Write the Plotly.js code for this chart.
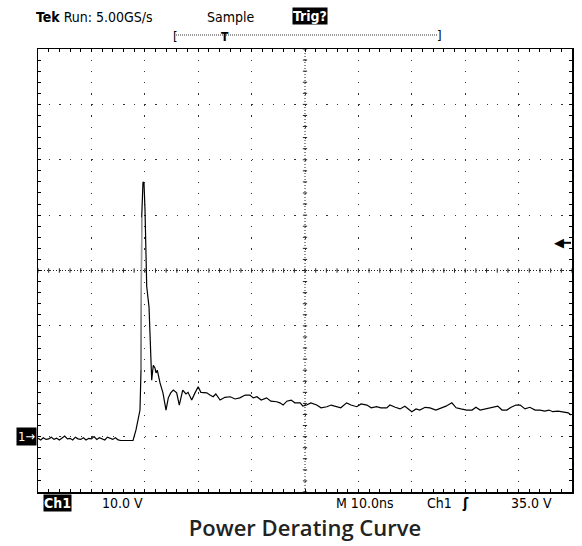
<!DOCTYPE html>
<html>
<head>
<meta charset="utf-8">
<script src="https://cdn.plot.ly/plotly-3.0.1.min.js"></script>
<style>html,body{margin:0;padding:0;background:#fff;}#chart{width:582px;height:546px;}</style>
</head>
<body>
<div id="chart"></div>
<script>
// ---- data: Ch1 waveform (time in ns, voltage in V) ----
const timeNs = [0,0.5,1,1.5,2,2.5,3,3.5,4,4.5,5,5.5,6,6.5,7,7.5,8,8.5,9,9.5,10,10.5,11,11.5,12,12.5,13,13.5,14,14.5,15,15.5,16,16.5,17,17.8,
  18.35,18.73,19.1,19.29,19.42,19.66,19.85,20.04,20.17,20.36,20.79,21.1,21.29,21.59,21.9,22.1,22.34,22.85,23.4,23.97,24.4,24.85,25.34,25.97,26.46,27.1,27.7,28.1,28.78,29.4,30.0,30.5,30.96,31.6,32.2,32.8,33.3,34.1,35.0,36.0,36.9,37.8,38.8,39.7,40.3,41.0,41.8,42.8,43.6,44.7,45.3,45.9,46.6,47.4,48.1,49.1,49.6,50.3,51.1,52.2,53.0,54.1,54.9,55.9,56.7,57.8,58.6,59.7,60.5,61.6,62.4,63.4,64.2,65.3,65.9,66.9,67.8,68.7,70.0,70.8,71.5,72.5,73.4,74.5,75.6,76.4,77.5,78.3,79.2,80.3,81.3,82.0,82.8,83.9,85.2,86.1,86.9,87.8,88.6,89.5,90.3,91.2,92.1,93.1,94.0,94.9,95.7,96.4,97.4,98.3,99.3,99.8];
const volts = [-0.3,-0.6,-0.2,-0.5,-0.4,-0.1,-0.5,-0.3,-0.6,-0.2,0.1,-0.4,-0.3,-0.6,-0.1,-0.4,-0.5,-0.2,-0.6,-0.3,-0.4,0.0,-0.5,-0.2,-0.4,-0.6,-0.1,-0.3,-0.5,-0.2,-0.6,-0.7,-0.7,-0.7,-0.7,-0.7,
  1.2,3.0,4.8,12.0,39.6,46.0,45.8,40.9,32.5,27.1,23.4,16.2,10.2,12.9,12.4,11.5,12.0,9.7,7.9,4.8,7.0,7.9,8.4,7.9,5.7,8.4,7.7,8.0,6.6,7.9,9.0,8.0,7.9,7.9,7.5,7.2,7.7,6.6,7.1,7.2,6.8,7.0,7.5,7.5,7.0,7.2,6.6,7.0,6.4,6.3,6.1,5.7,6.4,6.6,6.1,6.1,5.5,5.7,6.1,5.7,5.2,5.4,5.7,5.4,5.2,6.1,5.7,5.4,5.9,5.7,5.2,5.4,5.2,5.2,5.7,5.3,5.0,5.5,4.5,5.0,4.8,5.3,5.2,4.8,5.2,5.5,6.1,5.2,5.0,4.8,4.8,5.3,4.8,5.0,5.2,5.5,4.8,4.8,5.3,5.7,5.7,5.0,5.3,4.8,4.8,4.6,4.8,4.5,4.6,4.4,4.3,3.9];
// fast rising edge drawn fainter on the scope
const edgeT = [19.29, 19.42];
const edgeV = [12.0, 39.6];
const trigLevelV = 35.0;

const W = 582, H = 546, L = 38, R = 572, T = 49, B = 492;
const px = x => (x - L) / (R - L);
const py = y => (B - y) / (B - T);
const scopeFont = 'DejaVu Sans Condensed, Liberation Sans Narrow, DejaVu Sans, sans-serif';

const traces = [
  {x: timeNs, y: volts, type: 'scatter', mode: 'lines', line: {color: '#000', width: 1.2}, hoverinfo: 'skip', showlegend: false},
  {x: edgeT, y: edgeV, type: 'scatter', mode: 'lines', line: {color: '#9a9a9a', width: 1.2}, hoverinfo: 'skip', showlegend: false}
];

const shapes = [
  // centre crosshair
  {type: 'line', xref: 'x', yref: 'y', x0: 50, x1: 50, y0: -10, y1: 70, line: {color: '#222', width: 1, dash: '1px,2px'}, layer: 'below'},
  {type: 'line', xref: 'x', yref: 'y', x0: 0, x1: 100, y0: 30, y1: 30, line: {color: '#222', width: 1, dash: '1px,2px'}, layer: 'below'},
  // record bracket dotted line
  {type: 'line', xref: 'paper', yref: 'paper', x0: px(176), x1: px(437), y0: py(35), y1: py(35), line: {color: '#333', width: 1, dash: '1px,1px'}},
  // trigger arrow stem
  {type: 'line', xref: 'paper', yref: 'y', x0: px(563), x1: px(571), y0: trigLevelV, y1: trigLevelV, line: {color: '#000', width: 2}}
];
for (let t = 0; t <= 100; t += 2) {
  shapes.push({type: 'line', xref: 'x', yref: 'y', x0: t, x1: t, y0: 29.6, y1: 30.4, line: {color: '#222', width: 1}, layer: 'below'});
}
for (let v = -10; v <= 70; v += 2) {
  shapes.push({type: 'line', xref: 'x', yref: 'y', x0: 49.6, x1: 50.4, y0: v, y1: v, line: {color: '#222', width: 1}, layer: 'below'});
}

const txt = (text, x, y, opts) => Object.assign({
  text: text, xref: 'paper', yref: 'paper', x: px(x), y: py(y), xanchor: 'left', yanchor: 'middle',
  showarrow: false, font: {family: scopeFont, size: 14, color: '#000'}
}, opts || {});

const annotations = [
  txt('<b>Tek</b> Run: 5.00GS/s', 34, 17),
  txt('Sample', 205, 17),
  txt('<b>Trig?</b>', 292, 16, {bgcolor: '#000', font: {family: scopeFont, size: 14, color: '#fff'}, borderpad: 0}),
  txt('[', 171, 36, {font: {family: scopeFont, size: 13, color: '#000'}}),
  txt(']', 435, 35, {font: {family: scopeFont, size: 13, color: '#000'}}),
  txt('<b>T</b>', 225, 37, {xanchor: 'center', font: {family: scopeFont, size: 12, color: '#000'}}),
  {text: '◀', xref: 'paper', yref: 'y', x: px(566), y: trigLevelV, xanchor: 'right', yanchor: 'middle', showarrow: false,
   font: {family: 'DejaVu Sans', size: 13, color: '#000'}},
  {text: '1→', xref: 'paper', yref: 'y', x: px(37), y: 0, xanchor: 'right', yanchor: 'middle', showarrow: false,
   bgcolor: '#000', borderpad: 1, font: {family: scopeFont, size: 13, color: '#fff'}},
  txt('<b>Ch1</b>', 43, 503, {bgcolor: '#000', borderpad: 0, font: {family: scopeFont, size: 14, color: '#fff'}}),
  txt('10.0 V', 100, 503),
  txt('M 10.0ns', 334, 503),
  txt('Ch1', 425, 503),
  txt('<b>ʃ</b>', 460, 503),
  txt('35.0 V', 509, 503)
];

const layout = {
  width: W, height: H,
  margin: {l: L, r: W - R, t: T, b: H - B, pad: 0},
  paper_bgcolor: '#fff', plot_bgcolor: '#fff',
  showlegend: false,
  title: {text: 'Power Derating Curve', x: 0.5, xanchor: 'center', xref: 'paper', y: 1 - 528 / H, yanchor: 'middle',
          font: {family: 'Open Sans, Noto Sans, sans-serif', size: 22, color: '#222', weight: 600}},
  xaxis: {range: [0, 100], dtick: 10, tick0: 0, showticklabels: false, showgrid: true, gridcolor: '#333', gridwidth: 1,
          griddash: '1.2px,9.88px', zeroline: false, showline: true, linecolor: '#000', linewidth: 1.5, mirror: 'ticks',
          ticks: 'inside', ticklen: 3, tickcolor: '#000',
          minor: {dtick: 2, tick0: 0, ticks: 'inside', ticklen: 3, tickcolor: '#000', showgrid: false}, fixedrange: true},
  yaxis: {range: [-10, 70], dtick: 10, tick0: 0, showticklabels: false, showgrid: true, gridcolor: '#333', gridwidth: 1,
          griddash: '1.2px,9.48px', zeroline: false, showline: true, linecolor: '#000', linewidth: 1.5, mirror: 'ticks',
          ticks: 'inside', ticklen: 3, tickcolor: '#000',
          minor: {dtick: 2, tick0: 0, ticks: 'inside', ticklen: 3, tickcolor: '#000', showgrid: false}, fixedrange: true},
  shapes: shapes,
  annotations: annotations
};

Plotly.newPlot('chart', traces, layout, {displayModeBar: false, staticPlot: true});
</script>
</body>
</html>
